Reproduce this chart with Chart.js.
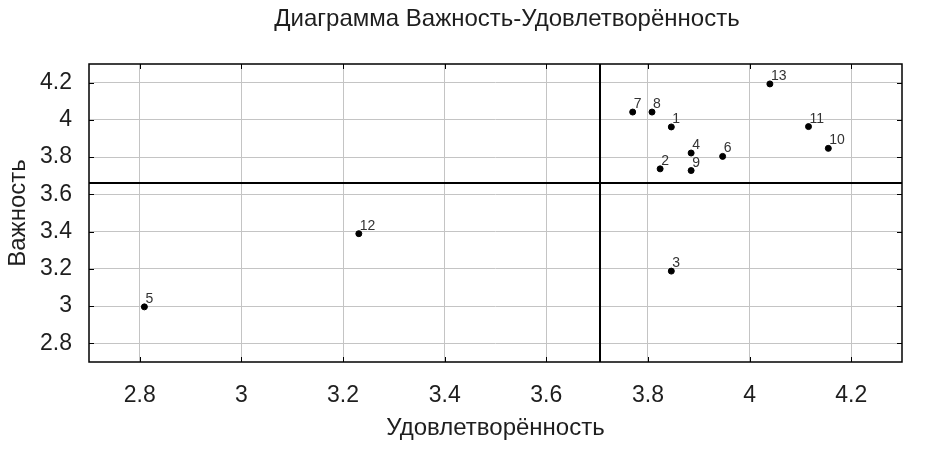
<!DOCTYPE html>
<html lang="ru">
<head>
  <meta charset="UTF-8" />
  <title>Диаграмма Важность-Удовлетворённость</title>
  <script src="https://cdn.jsdelivr.net/npm/chart.js"></script>
  <style>
    html, body { margin: 0; padding: 0; background: #fff; }
    #wrap { width: 926px; height: 464px; }
  </style>
</head>
<body>
  <div id="wrap"><canvas id="chart" width="926" height="464"></canvas></div>

  <script>
    // data
    const pointNums = ['1', '2', '3', '4', '5', '6', '7', '8', '9', '10', '11', '12', '13'];
    const satisfaction = [3.846, 3.824, 3.846, 3.885, 2.809, 3.947, 3.770, 3.808, 3.885, 4.155, 4.116, 3.231, 4.040];
    const importance   = [3.962, 3.737, 3.188, 3.822, 2.996, 3.804, 4.042, 4.042, 3.728, 3.847, 3.964, 3.389, 4.193];

    const xTicks = [2.8, 3.0, 3.2, 3.4, 3.6, 3.8, 4.0, 4.2];
    const yTicks = [2.8, 3.0, 3.2, 3.4, 3.6, 3.8, 4.0, 4.2];

    // means used for the quadrant lines
    const meanSatisfaction = 3.706;
    const meanImportance = 3.659;

    const chartTitle = 'Диаграмма Важность-Удовлетворённость';

    const FONT = "'Liberation Sans', Arial, sans-serif";
    const TEXT = '#1e1e1e';

    const points = satisfaction.map((x, i) => ({ x: x, y: importance[i] }));

    const extras = {
      id: 'extras',
      afterDatasetsDraw(chart) {
        const { ctx, chartArea: a, scales: { x, y } } = chart;
        ctx.save();

        // quadrant lines
        ctx.strokeStyle = '#000';
        ctx.lineWidth = 2;
        const mx = Math.round(x.getPixelForValue(meanSatisfaction));
        const my = Math.round(y.getPixelForValue(meanImportance));
        ctx.beginPath();
        ctx.moveTo(mx, a.top); ctx.lineTo(mx, a.bottom);
        ctx.moveTo(a.left, my); ctx.lineTo(a.right, my);
        ctx.stroke();

        // frame
        ctx.lineWidth = 1.5;
        ctx.strokeRect(a.left, a.top, a.right - a.left, a.bottom - a.top);

        // inward tick marks on all four sides
        ctx.lineWidth = 1;
        ctx.beginPath();
        xTicks.forEach(v => {
          const px = Math.round(x.getPixelForValue(v)) + 0.5;
          ctx.moveTo(px, a.bottom); ctx.lineTo(px, a.bottom - 5);
          ctx.moveTo(px, a.top); ctx.lineTo(px, a.top + 5);
        });
        yTicks.forEach(v => {
          const py = Math.round(y.getPixelForValue(v)) + 0.5;
          ctx.moveTo(a.left, py); ctx.lineTo(a.left + 5, py);
          ctx.moveTo(a.right, py); ctx.lineTo(a.right - 5, py);
        });
        ctx.stroke();

        // point numbers
        ctx.font = '14px ' + FONT;
        ctx.fillStyle = '#333';
        ctx.textAlign = 'left';
        ctx.textBaseline = 'alphabetic';
        const meta = chart.getDatasetMeta(0);
        meta.data.forEach((el, i) => {
          ctx.fillText(pointNums[i], el.x + 1, el.y - 4);
        });

        // title, centred like the original
        ctx.font = '24px ' + FONT;
        ctx.fillStyle = TEXT;
        ctx.textAlign = 'center';
        ctx.textBaseline = 'middle';
        ctx.fillText(chartTitle, 507, 19);

        ctx.restore();
      }
    };

    new Chart(document.getElementById('chart').getContext('2d'), {
      type: 'scatter',
      data: {
        datasets: [{
          data: points,
          backgroundColor: '#000',
          borderColor: '#000',
          pointRadius: 3,
          pointHoverRadius: 3
        }]
      },
      options: {
        responsive: false,
        animation: false,
        layout: { padding: { top: 64, right: 24, left: 0, bottom: 0 } },
        plugins: {
          legend: { display: false },
          tooltip: { enabled: false },
          title: { display: false }
        },
        scales: {
          x: {
            type: 'linear',
            min: 2.7,
            max: 4.3,
            afterBuildTicks: s => { s.ticks = xTicks.map(v => ({ value: v })); },
            afterFit: s => { s.height = 102; },
            grid: { color: '#c4c4c4', lineWidth: 1, drawTicks: false },
            border: { display: false },
            ticks: {
              padding: 20,
              color: TEXT,
              font: { family: FONT, size: 23 },
              callback: v => String(+v.toFixed(1))
            },
            title: {
              display: true,
              text: 'Удовлетворённость',
              color: TEXT,
              font: { family: FONT, size: 24 },
              padding: { top: 0, bottom: 21 }
            }
          },
          y: {
            type: 'linear',
            min: 2.7,
            max: 4.3,
            afterBuildTicks: s => { s.ticks = yTicks.map(v => ({ value: v })); },
            afterFit: s => { s.width = 89; },
            grid: { color: '#c4c4c4', lineWidth: 1, drawTicks: false },
            border: { display: false },
            ticks: {
              padding: 17,
              color: TEXT,
              font: { family: FONT, size: 23 },
              callback: v => String(+v.toFixed(1))
            },
            title: {
              display: true,
              text: 'Важность',
              color: TEXT,
              font: { family: FONT, size: 24 },
              padding: { top: 4, bottom: 0 }
            }
          }
        }
      },
      plugins: [extras]
    });
  </script>
</body>
</html>
